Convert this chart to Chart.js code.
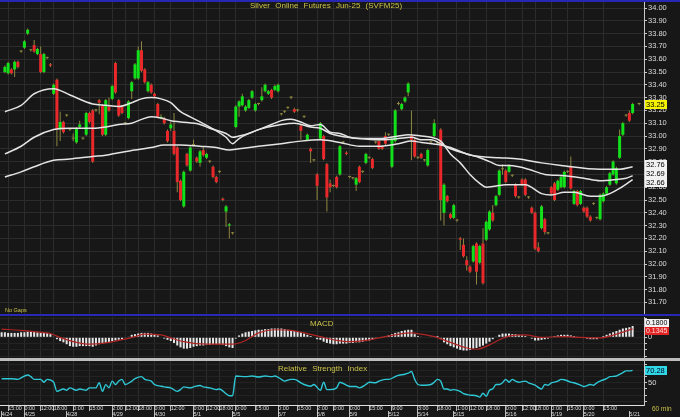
<!DOCTYPE html>
<html><head><meta charset="utf-8">
<script src="https://cdn.jsdelivr.net/npm/chart.js@4.4.0/dist/chart.umd.min.js"></script>
<style>
html,body{margin:0;padding:0;background:#171717;width:680px;height:417px;overflow:hidden;position:relative;font-family:"Liberation Sans",Arial,sans-serif}
canvas{position:absolute;left:0}
.t{position:absolute;color:#cbc24a;white-space:pre;line-height:1}
.bar{position:absolute;left:0;width:680px}
</style></head><body>
<div class="bar" style="top:0;height:2px;background:#2828b4"></div>
<canvas id="c1" width="680" height="312" style="top:2px"></canvas>
<div class="bar" style="top:314px;height:2px;background:#2828b4"></div>
<canvas id="c2" width="680" height="41" style="top:317px"></canvas>
<div class="bar" style="top:358px;height:3px;background:#bdbdbd"></div>
<canvas id="c3" width="680" height="56" style="top:361px"></canvas>
<div class="t" style="left:250px;top:2px;font-size:8px;word-spacing:3px">Silver Online Futures Jun-25 (SVFM25)</div>
<div class="t" style="left:5px;top:308px;font-size:5.5px">No Gaps</div>
<div class="t" style="left:310px;top:320px;font-size:8px">MACD</div>
<div class="t" style="left:278px;top:365px;font-size:8px;word-spacing:3px">Relative Strength Index</div>
<div class="t" style="left:652px;top:406px;font-size:6.5px">60 min</div>
<script>
const N = 198;
const O=[null,
33.50,33.49,33.52,33.52,33.58,33.66,33.69,33.80,33.67,33.71,
33.64,33.64,33.50,33.61,33.56,33.33,33.44,33.05,33.11,33.16,
33.05,32.98,32.95,33.07,32.98,33.01,33.18,33.20,33.20,33.28,
33.24,33.01,33.23,33.29,33.57,33.28,33.23,33.10,33.14,33.35,
33.45,33.45,33.67,33.52,33.35,33.40,33.33,33.25,33.14,33.14,
33.04,33.06,33.04,32.91,32.65,32.45,32.86,32.73,32.93,32.83,
32.79,32.89,32.83,32.80,32.76,32.68,32.72,32.51,32.41,32.30,
32.24,33.07,33.23,33.24,33.20,33.22,33.30,33.20,33.25,33.28,
33.35,33.33,33.36,33.36,33.35,33.17,33.19,33.22,33.30,33.21,
33.20,33.08,33.15,32.97,32.90,32.81,32.70,32.98,33.00,32.78,
32.63,32.61,32.68,32.70,32.95,32.87,32.68,32.67,32.62,32.76,
32.72,32.79,32.83,32.82,32.95,32.96,32.92,33.00,33.01,32.76,
32.96,33.25,33.21,33.27,33.34,33.00,32.97,32.83,32.86,32.81,
32.77,32.95,33.00,32.94,33.05,32.40,32.53,32.39,32.36,32.34,
32.20,32.15,32.03,31.98,32.02,32.16,32.01,32.16,32.19,32.27,
32.40,32.46,32.54,32.74,32.73,32.72,32.69,32.62,32.52,32.66,
32.66,32.52,32.44,32.40,32.13,32.28,32.35,32.24,32.60,32.63,
32.58,32.60,32.60,32.72,32.76,32.47,32.57,32.47,32.44,32.44,
32.37,32.47,32.36,32.35,32.49,32.55,32.62,32.70,32.63,32.83,
33.01,33.16,33.18,33.18,null,33.25,null];
const H=[null,
33.55,33.58,33.53,33.59,33.59,33.67,33.75,33.84,33.68,33.75,
33.69,33.70,33.65,33.62,33.57,33.41,33.45,33.19,33.12,33.17,
33.06,33.02,33.07,33.12,32.99,33.19,33.19,33.21,33.21,33.29,
33.25,33.29,33.30,33.40,33.58,33.29,33.24,33.11,33.28,33.43,
33.57,33.70,33.74,33.53,33.43,33.41,33.34,33.26,33.17,33.15,
33.05,33.11,33.18,32.92,32.66,32.73,32.87,32.92,32.97,32.84,
32.89,32.92,32.87,32.81,32.77,32.69,32.73,32.52,32.46,32.32,
32.25,33.24,33.28,33.33,33.24,33.29,33.36,33.26,33.26,33.38,
33.41,33.36,33.37,33.40,33.41,33.18,33.20,33.23,33.31,33.22,
33.21,33.09,33.16,33.02,32.91,32.82,32.71,33.11,33.01,32.79,
32.66,32.62,32.69,32.93,32.96,32.88,32.69,32.68,32.68,32.77,
32.73,32.87,32.84,32.83,32.96,32.97,32.93,33.03,33.02,32.99,
33.21,33.27,33.26,33.31,33.42,33.20,32.98,32.84,32.87,32.82,
32.90,32.96,33.13,32.95,33.06,32.63,32.54,32.40,32.47,32.35,
32.21,32.20,32.06,31.99,32.15,32.17,32.15,32.28,32.34,32.42,
32.46,32.54,32.74,32.78,32.74,32.78,32.70,32.63,32.53,32.67,
32.67,32.53,32.45,32.41,32.17,32.46,32.36,32.25,32.61,32.64,
32.66,32.69,32.73,32.73,32.84,32.58,32.58,32.58,32.45,32.45,
32.38,32.48,32.37,32.55,32.56,32.61,32.72,32.81,32.76,33.05,
33.11,33.17,33.20,33.26,null,33.26,null];
const L=[null,
33.49,33.48,33.48,33.46,33.53,33.65,33.68,33.79,33.66,33.65,
33.63,33.49,33.49,33.60,33.54,33.32,32.92,32.96,33.02,33.15,
33.04,32.96,32.94,33.06,32.97,33.00,33.10,32.79,33.19,33.17,
33.00,33.00,33.19,33.28,33.33,33.15,33.17,33.09,33.13,33.29,
33.44,33.44,33.50,33.41,33.34,33.33,33.30,33.14,33.13,33.09,
32.95,33.04,32.85,32.56,32.49,32.44,32.76,32.72,32.92,32.79,
32.76,32.84,32.82,32.79,32.67,32.63,32.71,32.49,32.29,32.20,
32.23,33.06,33.15,33.23,33.19,33.21,33.29,33.19,33.24,33.27,
33.34,33.32,33.29,33.35,33.34,33.16,33.18,33.21,33.29,33.18,
33.19,32.97,33.14,32.96,32.79,32.80,32.50,32.97,32.81,32.41,
32.56,32.60,32.59,32.69,32.94,32.85,32.67,32.66,32.57,32.63,
32.71,32.78,32.82,32.74,32.94,32.89,32.89,32.93,33.00,32.75,
32.95,33.24,33.20,33.26,33.31,32.81,32.83,32.82,32.82,32.80,
32.76,32.94,32.99,32.93,32.34,32.30,32.48,32.35,32.35,32.33,
32.11,32.05,31.95,31.93,32.01,31.84,32.00,31.84,32.18,32.26,
32.33,32.45,32.53,32.70,32.63,32.71,32.68,32.52,32.51,32.61,
32.53,32.51,32.39,32.11,32.09,32.27,32.23,32.23,32.54,32.49,
32.57,32.59,32.59,32.71,32.58,32.46,32.45,32.46,32.40,32.36,
32.33,32.46,32.35,32.34,32.48,32.54,32.61,32.69,32.62,32.82,
33.00,33.15,33.11,33.17,null,33.24,null];
const C=[null,
33.54,33.57,33.49,33.58,33.54,33.66,33.74,33.83,33.67,33.66,
33.68,33.50,33.64,33.61,33.55,33.40,33.05,33.11,33.03,33.16,
33.05,32.98,33.06,33.09,32.98,33.18,33.11,32.80,33.20,33.26,
33.01,33.28,33.20,33.39,33.34,33.16,33.18,33.10,33.27,33.42,
33.56,33.67,33.51,33.42,33.42,33.34,33.31,33.15,33.15,33.10,
32.96,33.09,32.86,32.64,32.50,32.72,32.77,32.91,32.93,32.80,
32.88,32.85,32.86,32.80,32.68,32.64,32.72,32.50,32.45,32.31,
32.24,33.23,33.27,33.31,33.23,33.28,33.35,33.25,33.25,33.31,
33.40,33.35,33.30,33.39,33.40,33.17,33.19,33.22,33.30,33.19,
33.20,33.04,33.15,33.01,32.88,32.81,32.61,33.10,32.82,32.52,
32.60,32.61,32.60,32.92,32.95,32.86,32.68,32.67,32.67,32.64,
32.72,32.86,32.83,32.75,32.95,32.90,32.90,32.94,33.01,32.98,
33.20,33.25,33.25,33.30,33.41,32.97,32.84,32.83,32.83,32.81,
32.89,32.95,33.10,32.94,32.50,32.62,32.49,32.36,32.46,32.34,
32.19,32.06,31.99,31.94,32.14,31.94,32.14,31.85,32.33,32.41,
32.34,32.53,32.73,32.74,32.64,32.77,32.69,32.53,32.52,32.62,
32.54,32.52,32.40,32.12,32.10,32.45,32.25,32.24,32.55,32.50,
32.65,32.68,32.72,32.72,32.59,32.57,32.46,32.57,32.41,32.37,
32.34,32.47,32.36,32.54,32.55,32.60,32.71,32.80,32.75,33.00,
33.10,33.16,33.12,33.25,null,33.25,null];

const maFast=[[1,33.19],[6,33.24],[10,33.33],[16,33.37],[21,33.32],[28,33.25],[32,33.24],[36,33.23],[40,33.26],[43,33.29],[46,33.30],[49,33.29],[52,33.26],[55,33.19],[58,33.15],[61,33.11],[64,33.07],[69,32.99],[71,32.94],[73,32.98],[76,33.02],[79,33.05],[83,33.09],[86,33.12],[89,33.13],[92,33.11],[95,33.08],[98,33.09],[101,33.03],[104,33.02],[107,32.99],[110,32.98],[116,32.98],[122,33.00],[125,33.01],[129,33.00],[132,32.99],[135,32.96],[138,32.86],[141,32.79],[144,32.70],[147,32.63],[149,32.60],[152,32.61],[155,32.62],[158,32.62],[161,32.62],[166,32.55],[169,32.54],[173,32.56],[176,32.56],[181,32.53],[184,32.53],[187,32.55],[190,32.59],[194,32.66]];
const maMid=[[1,32.86],[6,32.92],[10,32.99],[16,33.05],[21,33.06],[28,33.06],[32,33.07],[36,33.09],[40,33.10],[43,33.13],[46,33.15],[49,33.14],[52,33.12],[55,33.11],[61,33.09],[64,33.06],[69,33.02],[71,32.99],[73,33.00],[76,33.02],[79,33.05],[86,33.09],[90,33.10],[95,33.07],[98,33.06],[101,33.02],[104,33.00],[110,32.98],[116,32.97],[122,32.98],[126,32.99],[129,32.97],[132,32.97],[135,32.94],[138,32.90],[143,32.86],[147,32.83],[150,32.80],[153,32.77],[156,32.77],[159,32.76],[162,32.74],[167,32.70],[173,32.69],[179,32.67],[184,32.65],[189,32.66],[192,32.67],[194,32.69]];
const maSlow=[[1,32.68],[6,32.72],[10,32.76],[16,32.81],[21,32.82],[28,32.84],[32,32.85],[36,32.87],[41,32.89],[46,32.91],[50,32.93],[55,32.93],[61,32.92],[66,32.91],[70,32.89],[73,32.90],[79,32.92],[86,32.94],[92,32.96],[98,32.97],[104,32.95],[110,32.92],[116,32.92],[122,32.94],[126,32.96],[129,32.95],[135,32.93],[138,32.91],[143,32.86],[147,32.84],[153,32.83],[159,32.82],[166,32.79],[172,32.77],[184,32.74],[190,32.74],[194,32.76]];

const macdHist=[0.08,0.08,0.07,0.07,0.07,0.07,0.08,0.08,0.09,0.09,0.09,0.08,0.07,0.07,0.07,0.05,0.01,-0.03,-0.06,-0.08,-0.11,-0.14,-0.15,-0.15,-0.14,-0.14,-0.14,-0.14,-0.15,-0.13,-0.11,-0.10,-0.09,-0.08,-0.06,-0.05,-0.04,-0.03,-0.01,0.01,0.04,0.05,0.06,0.07,0.07,0.07,0.06,0.04,0.03,0.01,-0.02,-0.04,-0.06,-0.09,-0.13,-0.16,-0.18,-0.18,-0.17,-0.15,-0.14,-0.13,-0.13,-0.12,-0.12,-0.11,-0.11,-0.11,-0.12,-0.14,-0.16,-0.17,-0.02,0.03,0.06,0.08,0.09,0.10,0.11,0.12,0.12,0.13,0.13,0.14,0.14,0.14,0.14,0.13,0.12,0.11,0.10,0.09,0.08,0.06,0.04,0.02,0.00,-0.03,-0.04,-0.07,-0.09,-0.10,-0.11,-0.11,-0.10,-0.10,-0.10,-0.09,-0.09,-0.08,-0.08,-0.07,-0.06,-0.05,-0.03,-0.02,0.00,0.01,0.02,0.03,0.05,0.07,0.08,0.10,0.11,0.12,0.12,0.05,0.02,0.01,0.00,0.00,0.01,0.02,0.02,-0.03,-0.08,-0.11,-0.14,-0.16,-0.18,-0.20,-0.21,-0.21,-0.20,-0.18,-0.17,-0.15,-0.13,-0.10,-0.07,-0.03,0.01,0.04,0.06,0.06,0.06,0.05,0.05,0.04,0.03,0.02,0.00,-0.02,-0.05,-0.05,-0.04,-0.03,-0.02,0.01,0.02,0.03,0.04,0.04,0.04,0.03,0.02,0.01,0.00,-0.01,-0.02,-0.03,-0.03,-0.03,-0.01,0.02,0.04,0.06,0.08,0.10,0.12,0.14,0.15,0.16,0.18,null,null,null];
const macdSignal=[[0,0.13],[6,0.11],[10,0.09],[15,0.06],[16,0.04],[19,-0.02],[23,-0.08],[27,-0.11],[32,-0.09],[36,-0.05],[41,0.01],[44,0.05],[49,0.04],[52,-0.01],[56,-0.07],[63,-0.11],[67,-0.11],[71,-0.11],[75,-0.05],[79,0.07],[84,0.12],[89,0.11],[93,0.07],[98,0.01],[103,-0.05],[107,-0.07],[112,-0.05],[116,-0.01],[121,0.04],[126,0.07],[129,0.05],[133,0.01],[138,-0.08],[143,-0.17],[146,-0.19],[150,-0.12],[153,-0.04],[156,0.02],[161,0.04],[166,0.00],[172,0.01],[178,0.00],[184,-0.01],[189,0.05],[194,0.1345]];

const rsi=[[0,56.7],[3,56.7],[5,55.6],[6,58],[8,62.7],[9,60],[10,55.6],[12,55.6],[13,51],[14,55.6],[16,51],[17,36],[19,40],[20,37.8],[21,41.7],[23,37.8],[24,40],[26,37.8],[27,41.7],[29,41.7],[30,50],[31,36],[32,47],[33,42],[34,52.8],[35,47],[36,52.8],[37,55.6],[38,47.2],[40,52.8],[41,56.7],[43,60],[44,55.6],[46,52.8],[47,47.2],[49,44.4],[50,43.3],[52,41.7],[54,36],[55,38.9],[56,43.3],[58,41.7],[59,43.3],[61,45.6],[62,43.3],[64,41.7],[66,38.9],[67,40],[69,32.2],[70,28.8],[71,28.8],[72,61],[75,60],[77,61],[79,59.4],[81,61],[83,60],[84,61],[86,55.6],[87,52.8],[89,55.6],[90,55.6],[92,50],[93,47.2],[95,44.4],[96,47.2],[98,37.8],[99,51],[100,38.9],[101,38.9],[103,41.7],[104,51],[106,46.1],[107,43.9],[109,43.9],[110,41.7],[112,47.2],[113,51],[115,50],[116,52.8],[118,55.6],[119,55.6],[121,60],[122,62.2],[124,63.9],[125,65.6],[126,68.3],[127,55.6],[128,47.2],[129,46.1],[130,46.1],[132,47.2],[133,51],[134,55.6],[135,52.8],[136,40],[137,40],[138,37.8],[139,38.9],[141,36],[142,32.2],[144,30],[146,28.9],[147,26.7],[148,33],[149,28],[150,38],[151,40],[152,47.2],[153,47.2],[154,50],[155,55.6],[156,51],[157,55.6],[158,52.8],[159,51],[161,52.8],[162,50],[164,46.1],[166,40],[167,47.2],[168,46.1],[169,50],[170,51],[171,52.8],[172,55.6],[173,55],[175,51],[176,50],[178,46.1],[179,43.9],[181,47.2],[182,46.1],[183,50],[184,52.8],[186,56.7],[187,60],[189,61],[190,63.9],[191,66.7],[192,69.4],[193,69.4],[194,70.28]];

const priceTicks=[31.7,31.8,31.9,32.0,32.1,32.2,32.3,32.4,32.5,32.6,32.7,32.8,32.9,33.0,33.1,33.2,33.3,33.4,33.5,33.6,33.7,33.8,33.9,34.0];
const macdTicks=[-0.3,-0.2,-0.1,0,0.1,0.2,0.3];
const rsiTicks=[20,30,40,50,60,70,80];
const timeTicks=[[2,'15:00'],[7,'0:00'],[12,'12:00'],[16,'18:00'],[22,'0:00'],[27,'15:00'],[34,'2:00'],[38,'12:00'],[42,'18:00'],[47,'0:00'],[52,'12:00'],[59,'0:00'],[63,'12:00'],[67,'18:00'],[72,'0:00'],[78,'15:00'],[85,'0:00'],[91,'15:00'],[97,'2:00'],[102,'0:00'],[107,'0:00'],[113,'15:00'],[120,'9:00'],[128,'3:00'],[134,'18:00'],[140,'1:00'],[144,'12:00'],[149,'18:00'],[155,'0:00'],[160,'12:00'],[164,'18:00'],[169,'0:00'],[174,'15:00'],[179,'0:00'],[185,'15:00']];
const dateTicks=[[0,'4/24'],[7,'4/25'],[20,'4/28'],[34,'4/29'],[47,'4/30'],[59,'5/1'],[71,'5/5'],[85,'5/7'],[97,'5/8'],[107,'5/9'],[119,'5/12'],[128,'5/14'],[139,'5/15'],[155,'5/16'],[169,'5/19'],[179,'5/20'],[193,'5/21']];
const lastPrice=[{v:33.25,k:'y'}];
const lastMA=[{v:32.76,k:'w'},{v:32.69,k:'w'},{v:32.66,k:'w'}];
const lastMacd=[{v:0.1800,k:'w',d:4},{v:0.1345,k:'r',d:4}];
const lastRsi=[{v:70.28,k:'c'}];

const GREEN='#12e01a', RED='#e8282a', OLIVE='#8f8842', GRID='#2c2c2c', AX='#c8c8c8', TXT='#dcdcdc';
const FONT='"Liberation Sans", Arial, sans-serif';
const BOXSTY={y:['#f4f400','#000'],w:['#f2f2f2','#000'],r:['#e02424','#ffd8d8'],c:['#2fd8e4','#002']};

function fill(pts){const a=new Array(N).fill(null);pts.forEach(p=>{a[p[0]]=p[1];});return a;}
const timeLabels=fill(timeTicks).map(v=>v||'');
const dateLabels=fill(dateTicks).map(v=>v||'');
const gridCol=ctx=>timeLabels[ctx.index]?GRID:'transparent';

const boxPlugin={id:'boxes',afterDraw(chart,args,opts){
  const list=opts.items||[];if(!list.length)return;
  const ys=chart.scales.y,ctx=chart.ctx,h=opts.h;
  const it=list.map(b=>({b,y:ys.getPixelForValue(b.v)})).sort((a,b)=>a.y-b.y);
  for(let k=0;k<20;k++){for(let i=1;i<it.length;i++){const d=it[i].y-it[i-1].y;if(d<h){const m=(h-d)/2;it[i].y+=m;it[i-1].y-=m;}}}
  ctx.save();ctx.font=opts.font;ctx.textBaseline='middle';
  const x=chart.chartArea.right+1;
  it.forEach(o=>{const s=BOXSTY[o.b.k];ctx.fillStyle=s[0];ctx.fillRect(x,Math.round(o.y-h/2),opts.w,h);
    ctx.fillStyle=s[1];ctx.fillText(o.b.v.toFixed(o.b.d||2),x+1,Math.round(o.y-h/2)+h/2+0.5);});
  ctx.restore();}};
Chart.register(boxPlugin);

const baseX={type:'category',offset:true,ticks:{display:false,autoSkip:false},grid:{offset:false,drawTicks:false,color:gridCol},border:{display:false},afterFit:s=>{s.height=0;s.paddingLeft=0;s.paddingRight=0;}};
function yAxis(min,max,ticks,cb,gridc){return {position:'right',min,max,
  afterBuildTicks:s=>{s.ticks=ticks.map(v=>({value:v}));},
  ticks:{color:TXT,font:{size:7.5,family:FONT},padding:1,callback:cb,autoSkip:false},
  grid:{color:gridc,drawTicks:true,tickLength:3,tickColor:AX},
  border:{display:true,color:AX},
  afterFit:s=>{s.width=36;s.paddingTop=0;s.paddingBottom=0;}};}
const common={responsive:false,animation:false,devicePixelRatio:1,layout:{padding:0,autoPadding:false},
  plugins:{legend:{display:false},tooltip:{enabled:false}}};
const lineDs=(pts,col,w,ord)=>({type:'line',data:fill(pts),borderColor:col,borderWidth:w,pointRadius:0,spanGaps:true,cubicInterpolationMode:'monotone',order:ord});

new Chart(document.getElementById('c1'),{type:'bar',data:{labels:timeLabels,datasets:[
  lineDs(maSlow,'#e4e4e4',1.5,0),lineDs(maMid,'#e4e4e4',1.5,0),lineDs(maFast,'#e4e4e4',1.5,0),
  {type:'bar',data:O.map((o,i)=>o==null?null:[o,C[i]]),backgroundColor:O.map((o,i)=>o==null?'transparent':(C[i]>o?GREEN:(C[i]<o?RED:OLIVE))),barThickness:3,minBarLength:1,grouped:false,inflateAmount:0,borderWidth:0,order:1},
  {type:'bar',data:O.map((o,i)=>o==null?null:[L[i],H[i]]),backgroundColor:OLIVE,barThickness:1,grouped:false,inflateAmount:0,borderWidth:0,order:2}
]},options:{...common,scales:{x:baseX,y:yAxis(31.6094,34.0469,priceTicks,v=>v.toFixed(2),GRID)},
  plugins:{...common.plugins,boxes:{items:lastPrice.concat(lastMA),h:9,w:22,font:'7.5px '+FONT}}}});

new Chart(document.getElementById('c2'),{type:'bar',data:{labels:timeLabels,datasets:[
  lineDs(macdSignal,'#b02424',1.2,0),
  {type:'bar',data:macdHist,backgroundColor:'#e8e8e8',barThickness:2,grouped:false,inflateAmount:0,borderWidth:0,order:1}
]},options:{...common,scales:{x:baseX,y:yAxis(-0.329,0.3228,macdTicks,v=>v===0?'0':'','#232323')},
  plugins:{...common.plugins,boxes:{items:lastMacd,h:8,w:24,font:'7px '+FONT}}}});

new Chart(document.getElementById('c3'),{type:'line',data:{labels:timeLabels,datasets:[
  lineDs(rsi,'#2ec8d6',1.4,0)
]},options:{...common,scales:{
  x:{type:'category',offset:true,weight:0,position:'bottom',
    ticks:{display:true,autoSkip:false,maxRotation:0,minRotation:0,align:'start',padding:-6,color:TXT,font:{size:5.5,family:FONT}},
    grid:{offset:false,drawTicks:true,tickLength:6,color:gridCol,tickColor:ctx=>timeLabels[ctx.index]?'#bbbbbb':'transparent'},
    border:{display:true,color:'#e0e0e0'},afterFit:s=>{s.height=6;s.paddingLeft=0;s.paddingRight=0;}},
  x2:{type:'category',labels:dateLabels,offset:true,weight:1,position:'bottom',
    ticks:{display:true,autoSkip:false,maxRotation:0,minRotation:0,align:'start',padding:-6,color:TXT,font:{size:5.5,family:FONT}},
    grid:{offset:false,drawOnChartArea:false,drawTicks:true,tickLength:6,color:'transparent',tickColor:ctx=>dateLabels[ctx.index]?'#bbbbbb':'transparent'},
    border:{display:false},afterFit:s=>{s.height=6;s.paddingLeft=0;s.paddingRight=0;}},
  y:yAxis(13.83,85.5,rsiTicks,v=>v===50?'50':'','#232323')},
  plugins:{...common.plugins,boxes:{items:lastRsi,h:9,w:22,font:'7.5px '+FONT}}}});
</script>
</body></html>
